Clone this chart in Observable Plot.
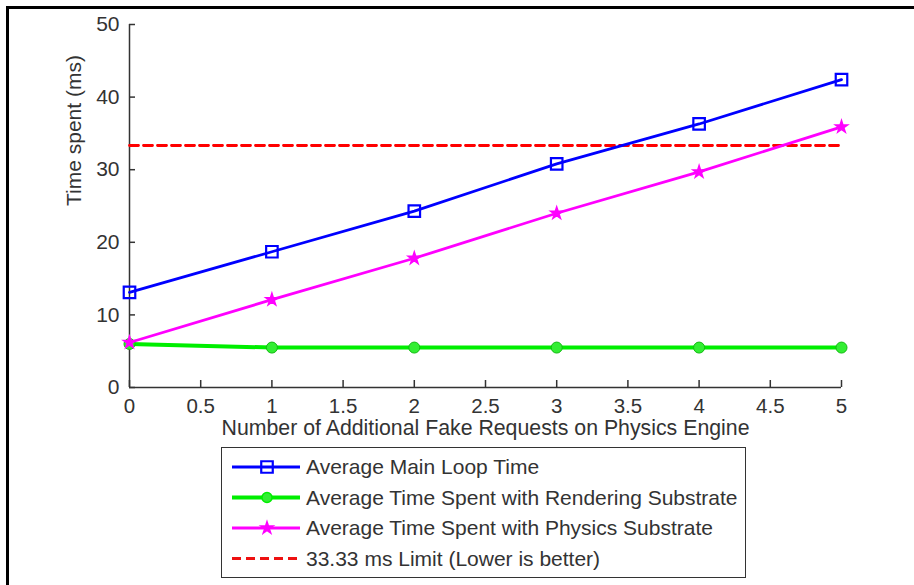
<!DOCTYPE html>
<html><head><meta charset="utf-8">
<script src="https://cdn.jsdelivr.net/npm/d3@7"></script>
<script src="https://cdn.jsdelivr.net/npm/@observablehq/plot@0.6"></script>
<style>
body{margin:0;background:#fff;font-family:"Liberation Sans",Arial,sans-serif;}
#wrap{position:relative;width:914px;height:585px;overflow:hidden;background:#fff;}
#frame{position:absolute;left:6px;top:6px;width:930px;height:600px;border-left:3px solid #000;border-top:3px solid #000;pointer-events:none;}
#chart{position:absolute;left:0;top:0;}
#legend{position:absolute;left:221px;top:447px;width:525px;height:131px;border:1.5px solid #333;box-sizing:border-box;background:#fff;}
#legend svg{position:absolute;left:0;top:0;}
.lt{position:absolute;left:84px;font-size:21px;color:#333;line-height:30px;white-space:nowrap;}
</style></head>
<body>
<div id="wrap">
  <div id="chart"></div>
  <div id="legend"></div>
  <div id="frame"></div>
</div>
<script>
// ---- data ----
const requests = [0, 1, 2, 3, 4, 5];
const mainLoop = [13.1, 18.7, 24.3, 30.8, 36.3, 42.4];
const rendering = [6.0, 5.5, 5.5, 5.5, 5.5, 5.5];
const physics = [6.2, 12.1, 17.8, 24.0, 29.7, 35.9];
const limitValue = 33.33;
const xTicks = [0, 0.5, 1, 1.5, 2, 2.5, 3, 3.5, 4, 4.5, 5];
const yTicks = [0, 10, 20, 30, 40, 50];
const seriesNames = [
  "Average Main Loop Time",
  "Average Time Spent with Rendering Substrate",
  "Average Time Spent with Physics Substrate",
  "33.33 ms Limit (Lower is better)"
];
const xLabel = "Number of Additional Fake Requests on Physics Engine";
const yLabel = "Time spent (ms)";

const table = requests.map((r, i) => ({r, main: mainLoop[i], rend: rendering[i], phys: physics[i], limit: limitValue}));
const limitLine = [requests[0], requests[requests.length - 1]].map(r => ({r, limit: limitValue}));

const axisColor = "#333";
const plot = Plot.plot({
  width: 914,
  height: 447,
  marginLeft: 129,
  marginRight: 73,
  marginTop: 24,
  marginBottom: 60,
  style: {fontFamily: "Liberation Sans, Arial, sans-serif", fontSize: "20px", color: axisColor, background: "transparent", overflow: "visible"},
  x: {domain: [0, 5]},
  y: {domain: [0, 50]},
  marks: [
    Plot.axisX({ticks: xTicks, tickSize: 0, tickPadding: 11, tickFormat: d => String(d), label: null, fontSize: 20.5}),
    Plot.axisY({ticks: yTicks, tickSize: 0, tickPadding: 10, tickFormat: d => String(d), label: null, fontSize: 21}),
    // inward-pointing tick marks (MATLAB style)
    Plot.ruleX(xTicks, {x: d => d, y1: 0, y2: 0, insetBottom: 7, stroke: axisColor, strokeWidth: 1.5}),
    Plot.ruleY(yTicks, {y: d => d, x1: 0, x2: 0, insetRight: -6, stroke: axisColor, strokeWidth: 1.5}),
    Plot.ruleX([0], {stroke: axisColor, strokeWidth: 1.5}),
    Plot.ruleY([0], {stroke: axisColor, strokeWidth: 1.5}),
    Plot.text([yLabel], {text: d => d, frameAnchor: "left", dx: -55, rotate: -90, fontSize: 21, fill: axisColor}),
    Plot.text([xLabel], {text: d => d, frameAnchor: "bottom", dy: 47, fontSize: 21.3, fill: axisColor}),
    Plot.line(limitLine, {x: "r", y: "limit", stroke: "#ff0000", strokeWidth: 2.8, strokeDasharray: "9,5"}),
    Plot.line(table, {x: "r", y: "rend", stroke: "#00ee00", strokeWidth: 4}),
    Plot.dot(table, {x: "r", y: "rend", symbol: "circle", r: 5.5, fill: "#33ee33", stroke: "#11bb11", strokeWidth: 1}),
    Plot.line(table, {x: "r", y: "phys", stroke: "#ff00ff", strokeWidth: 2.8}),
    Plot.dot(table, {x: "r", y: "phys", symbol: "star", r: 3.8, fill: "#ff00ff", stroke: "#ff00ff", strokeWidth: 1.5}),
    Plot.line(table, {x: "r", y: "main", stroke: "#0000ff", strokeWidth: 2.8}),
    Plot.dot(table, {x: "r", y: "main", symbol: "square", r: 6.5, fill: "none", stroke: "#0000ff", strokeWidth: 2.2})
  ]
});
document.getElementById("chart").appendChild(plot);

// ---- legend ----
const legend = document.getElementById("legend");
const styles = [
  {stroke: "#0000ff", width: 2.8, dash: null, marker: "square", fill: "none"},
  {stroke: "#00ee00", width: 4, dash: null, marker: "circle", fill: "#33ee33"},
  {stroke: "#ff00ff", width: 2.8, dash: null, marker: "star", fill: "#ff00ff"},
  {stroke: "#ee1111", width: 2.8, dash: "9,5", marker: null, fill: "none"}
];
const ns = "http://www.w3.org/2000/svg";
const svg = document.createElementNS(ns, "svg");
svg.setAttribute("width", 90); svg.setAttribute("height", 128);
const rowY = [19, 49.5, 80, 110.5];
seriesNames.forEach((name, i) => {
  const s = styles[i], cy = rowY[i];
  const ln = document.createElementNS(ns, "line");
  ln.setAttribute("x1", 10); ln.setAttribute("x2", 78);
  ln.setAttribute("y1", cy); ln.setAttribute("y2", cy);
  ln.setAttribute("stroke", s.stroke); ln.setAttribute("stroke-width", s.width);
  if (s.dash) ln.setAttribute("stroke-dasharray", s.dash);
  svg.appendChild(ln);
  if (s.marker) {
    const p = document.createElementNS(ns, "path");
    const sym = s.marker === "square" ? d3.symbolSquare : s.marker === "circle" ? d3.symbolCircle : d3.symbolStar;
    const r = s.marker === "square" ? 6.5 : s.marker === "circle" ? 5 : 3.8;
    p.setAttribute("d", d3.symbol(sym, r * r * Math.PI)());
    p.setAttribute("transform", `translate(45,${cy})`);
    p.setAttribute("fill", s.fill);
    p.setAttribute("stroke", s.stroke);
    p.setAttribute("stroke-width", s.marker === "square" ? 2.2 : 1.5);
    svg.appendChild(p);
  }
  const t = document.createElement("div");
  t.className = "lt";
  t.style.top = (cy - 15) + "px";
  t.textContent = name;
  legend.appendChild(t);
});
legend.appendChild(svg);
</script>
</body></html>
